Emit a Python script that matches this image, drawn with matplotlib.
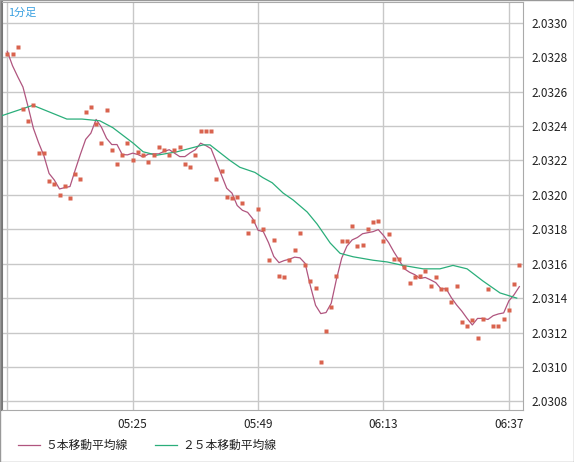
import matplotlib
matplotlib.use("Agg")
import matplotlib.pyplot as plt
import numpy as np
import pandas as pd

plt.rcParams['font.family'] = ['Noto Sans CJK JP', 'DejaVu Sans']

prices = [2.03282,2.03282,2.03286,2.03250,2.03243,2.03252,2.03224,2.03224,2.03208,2.03206,
          2.03200,2.03205,2.03198,2.03212,2.03209,2.03248,2.03251,2.03241,2.03230,2.03249,
          2.03226,2.03218,2.03223,2.03230,2.03220,2.03225,2.03223,2.03219,2.03223,2.03228,
          2.03226,2.03223,2.03226,2.03228,
          2.03218,2.03216,2.03223,2.03237,2.03237,2.03237,2.03209,2.03214,2.03199,2.03198,
          2.03199,2.03195,2.03178,2.03185,2.03192,2.03180,2.03162,2.03174,2.03153,2.03152,
          2.03162,2.03168,2.03178,2.03159,2.03150,2.03146,2.03103,2.03121,2.03135,2.03153,
          2.03173,2.03173,
          2.03182,2.03170,2.03171,2.03180,2.03184,2.03185,2.03173,2.03177,2.03163,2.03163,
          2.03158,2.03149,2.03152,2.03153,2.03156,2.03147,2.03152,2.03145,2.03145,2.03138,
          2.03147,2.03126,2.03124,2.03127,2.03117,2.03128,2.03145,2.03124,2.03124,2.03128,
          2.03133,2.03148,2.03159]

ma25_idx = [-1.0,4.9,11.4,14.3,17.7,20.2,24.1,26.0,28.6,32.5,37.5,38.8,42.6,44.5,47.4,48.9,
            50.7,52.8,54.7,57.4,59.3,61.8,63.7,66.2,70.0,72.7,75.7,79.6,82.8,85.3,88.0,91.0,94.3,97.5]
ma25_val = [2.03246,2.03252,2.03244,2.03244,2.03243,2.03239,2.03230,2.03225,2.03223,2.03225,
            2.03229,2.03229,2.03220,2.03216,2.03213,2.03210,2.03207,2.03201,2.03197,2.03190,
            2.03183,2.03172,2.03166,2.03164,2.03162,2.03161,2.03159,2.03157,2.03157,2.03159,
            2.03157,2.03150,2.03143,2.03140]

tick_pos = [0, 24, 48, 72, 96]
tick_labels = ['', '05:25', '05:49', '06:13', '06:37']
yticks = [2.0308,2.0310,2.0312,2.0314,2.0316,2.0318,2.0320,2.0322,2.0324,2.0326,2.0328,2.0330]

x = np.arange(len(prices))
ma5 = pd.Series(prices).rolling(5, min_periods=1, center=True).mean()

fig = plt.figure(figsize=(5.74, 4.62), dpi=100)
ax = fig.add_axes([2/574, 52/462, 521/574, 408/462])
ax.plot(x, ma5, color='#b0557f', lw=0.9, zorder=3)
ax.plot(ma25_idx, ma25_val, color='#2aae7a', lw=0.9, zorder=3)
ax.plot(x, prices, 's', color='#d9634e', ms=3, mec='none', zorder=4)

ax.set_xlim(-1.01, 98.7)
ax.set_ylim(2.03075, 2.03312)
ax.set_xticks(tick_pos)
ax.set_xticklabels(tick_labels)
ax.set_yticks(yticks)
ax.set_yticklabels([f'{v:.4f}' for v in yticks])
ax.yaxis.tick_right()
ax.tick_params(length=0, labelsize=8.5, colors='#222222', pad=6)
ax.grid(True, color='#c8c8c8', lw=1)
for s in ax.spines.values():
    s.set_color('#aaaaaa')
ax.spines['left'].set_color('#777777')
ax.spines['left'].set_linewidth(1.5)
ax.text(0.012, 0.985, '1分足', transform=ax.transAxes, color='#3aa0e0', fontsize=8, va='top')

fig.lines.append(plt.Line2D([18/574, 40/574], [17/462, 17/462], color='#b0557f', lw=0.9, transform=fig.transFigure))
fig.text(45/574, 17/462, '５本移動平均線', fontsize=8.5, va='center', color='#222222')
fig.lines.append(plt.Line2D([155/574, 177/574], [17/462, 17/462], color='#2aae7a', lw=0.9, transform=fig.transFigure))
fig.text(182/574, 17/462, '２５本移動平均線', fontsize=8.5, va='center', color='#222222')
fig.patches.append(plt.Rectangle((0, 0), 1, 1, fill=False, ec='#999999', lw=1, transform=fig.transFigure))
fig.savefig('out.png', dpi=100)
